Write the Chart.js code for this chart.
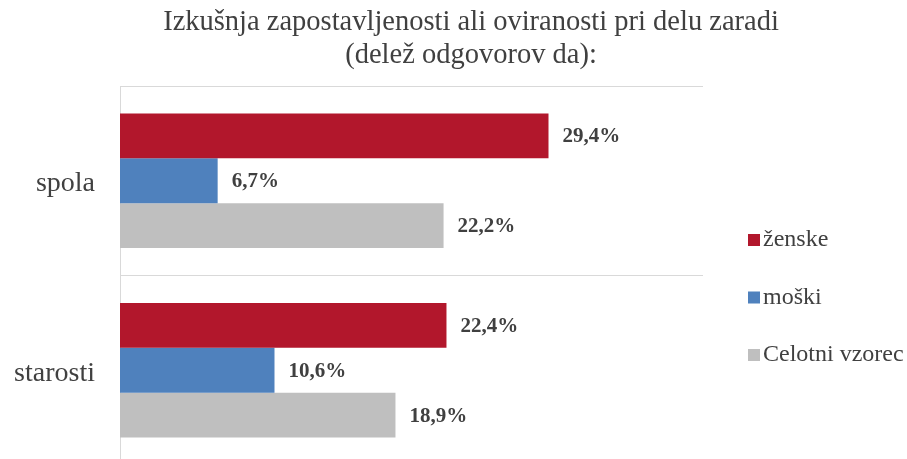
<!DOCTYPE html>
<html>
<head>
<meta charset="utf-8">
<script src="https://cdn.jsdelivr.net/npm/chart.js@4.4.1/dist/chart.umd.min.js"></script>
<style>
  html, body { margin: 0; padding: 0; background: #fff; overflow: hidden; }
  #wrap { width: 907px; height: 459px; overflow: hidden; }
  canvas { display: block; }
</style>
</head>
<body>
<div id="wrap"><canvas id="myChart" width="907" height="466"></canvas></div>
<script>
const categories = ['spola', 'starosti'];
const seriesNames = ['ženske', 'moški', 'Celotni vzorec'];
const zenske = [29.4, 22.4];
const moski = [6.7, 10.6];
const celotni = [22.2, 18.9];
const colours = ['#B2172C', '#4F81BD', '#BFBFBF'];
const titleLines = ['Izkušnja zapostavljenosti ali oviranosti pri delu zaradi', '(delež odgovorov da):'];

const FONT = "'Liberation Serif', 'DejaVu Serif', serif";
const TEXT = '#404040';

// naslov (sredina ni nad osjo, ampak bolj desno)
const topTitle = {
  id: 'topTitle',
  afterDraw(chart) {
    const c = chart.ctx;
    c.save();
    c.font = '28.5px ' + FONT;
    c.fillStyle = TEXT;
    c.textAlign = 'center';
    c.textBaseline = 'middle';
    titleLines.forEach((line, i) => {
      c.fillText(line, 471, 23 + i * 33);
    });
    c.restore();
  }
};

// napisi vrednosti desno od stolpcev
const valueLabels = {
  id: 'valueLabels',
  afterDatasetsDraw(chart) {
    const c = chart.ctx;
    c.save();
    c.font = 'bold 21px ' + FONT;
    c.fillStyle = TEXT;
    c.textBaseline = 'middle';
    c.textAlign = 'left';
    chart.data.datasets.forEach((ds, i) => {
      chart.getDatasetMeta(i).data.forEach((bar, j) => {
        const txt = ds.data[j].toFixed(1).replace('.', ',') + '%';
        c.fillText(txt, bar.x + 14, bar.y + 1);
      });
    });
    c.restore();
  }
};

// legenda na desni
const sideLegend = {
  id: 'sideLegend',
  afterDraw(chart) {
    const c = chart.ctx;
    c.save();
    c.font = '24px ' + FONT;
    c.textBaseline = 'middle';
    chart.data.datasets.forEach((ds, i) => {
      const y = 240 + i * 57.5;
      c.fillStyle = ds.backgroundColor;
      c.fillRect(748, y - 6, 12, 12);
      c.fillStyle = TEXT;
      c.fillText(ds.label, 763, y);
    });
    c.restore();
  }
};

const ctx = document.getElementById('myChart').getContext('2d');

new Chart(ctx, {
  type: 'bar',
  data: {
    labels: categories,
    datasets: [
      { label: seriesNames[0], data: zenske, backgroundColor: colours[0] },
      { label: seriesNames[1], data: moski, backgroundColor: colours[1] },
      { label: seriesNames[2], data: celotni, backgroundColor: colours[2] },
    ]
  },
  options: {
    indexAxis: 'y',
    responsive: false,
    animation: false,
    datasets: {
      bar: { categoryPercentage: 0.71, barPercentage: 1.0 }
    },
    layout: { padding: { left: 0, right: 204, top: 86, bottom: 1 } },
    plugins: {
      legend: { display: false },
      tooltip: { enabled: false },
      title: { display: false }
    },
    scales: {
      x: {
        display: false,
        min: 0,
        max: 40,
        afterFit(scale) { scale.height = 0; }
      },
      y: {
        afterFit(scale) {
          scale.width = 120;
          scale.paddingTop = 0;
          scale.paddingBottom = 0;
        },
        grid: { color: '#D9D9D9', drawTicks: false, offset: true },
        border: { display: true, color: '#D9D9D9' },
        ticks: {
          color: TEXT,
          padding: 25,
          labelOffset: 3,
          font: { family: FONT, size: 28 }
        }
      }
    }
  },
  plugins: [topTitle, valueLabels, sideLegend]
});
</script>
</body>
</html>
